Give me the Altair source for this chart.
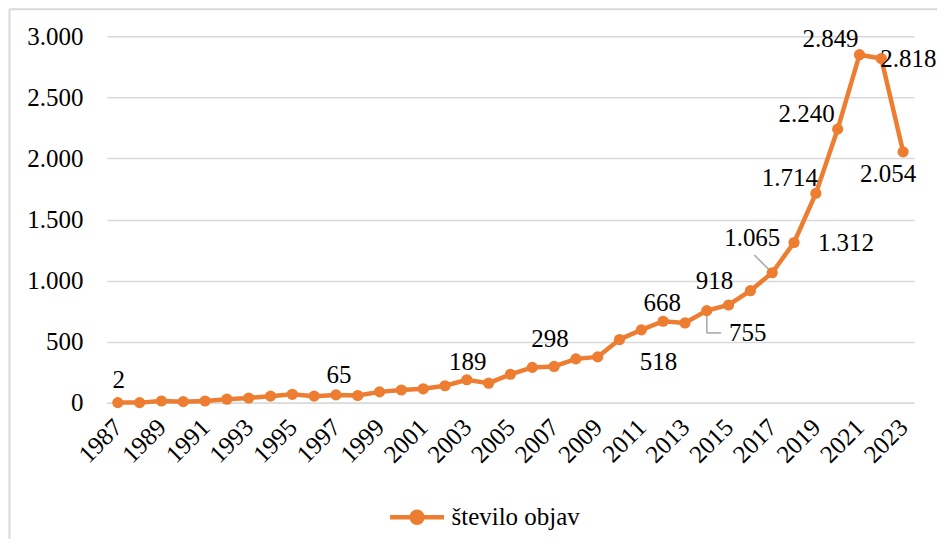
import altair as alt
import pandas as pd

# ---- data ----
years = list(range(1987, 2024))
values = [2, 2, 15, 10, 15, 30, 40, 55, 70, 55,
          65, 60, 90, 105, 115, 140, 189, 161, 234, 290,
          298, 360, 376, 518, 597, 668, 654, 755, 801, 918,
          1065, 1312, 1714, 2240, 2849, 2818, 2054]
series_name = "število objav"
y_ticks = [0, 500, 1000, 1500, 2000, 2500, 3000]
x_tick_years = years[::2]
labelled_years = [1987, 1997, 2003, 2007, 2010, 2012, 2014, 2016,
                  2017, 2018, 2019, 2020, 2021, 2022, 2023]

# ---- styles ----
ORANGE = "#ED7D31"
GRID = "#d9d9d9"
LEADER = "#a6a6a6"
FONT = "Liberation Serif"
FS = 25
# label placement (dx, dy) in pixels relative to the point
LABEL_OFFSETS = {
    1987: (1, -23), 1997: (3, -20), 2003: (1, -18), 2007: (-4, -27),
    2010: (39, 22), 2012: (-1, -18), 2014: (41, 22), 2016: (-36, -10),
    2017: (-20, -35), 2018: (52, 0), 2019: (-26, -15), 2020: (-31, -15),
    2021: (-29, -16), 2022: (27, 1), 2023: (-15, 22),
}

df = pd.DataFrame({"year": years, "value": values})
df["series"] = series_name
df["label"] = [f"{v:,}".replace(",", ".") for v in values]

W, H = 808, 367

x_enc = alt.X(
    "year:O",
    title=None,
    scale=alt.Scale(type="point", padding=0.5),
    axis=alt.Axis(
        values=x_tick_years,
        labelAngle=-45,
        labelAlign="right",
        labelBaseline="middle",
        labelPadding=20,
        ticks=False,
        tickSize=0,
        domainColor=GRID,
        domainWidth=1.5,
        grid=False,
        labelFont=FONT,
        labelFontSize=FS,
        labelColor="black",
    ),
)
y_enc = alt.Y(
    "value:Q",
    title=None,
    scale=alt.Scale(domain=[0, 3000], nice=False),
    axis=alt.Axis(
        values=y_ticks,
        labelExpr="replace(format(datum.value, ','), ',', '.')",
        ticks=False,
        tickSize=0,
        labelPadding=24,
        domain=False,
        grid=True,
        gridColor=GRID,
        gridWidth=1.5,
        labelFont=FONT,
        labelFontSize=FS,
        labelColor="black",
    ),
)

base = alt.Chart(df)

# legend symbol: a short line with a dot in the middle
SYMBOL = "M-1,0L1,0M0.2,0A0.2,0.2,0,1,1,-0.2,0A0.2,0.2,0,1,1,0.2,0Z"

line = base.mark_line(color=ORANGE, strokeWidth=4.5).encode(x=x_enc, y=y_enc)
points = base.mark_circle(size=125, opacity=1).encode(
    x=x_enc,
    y=y_enc,
    color=alt.Color(
        "series:N",
        scale=alt.Scale(range=[ORANGE]),
        legend=alt.Legend(
            title=None,
            orient="none",
            legendX=281,
            legendY=452,
            padding=0,
            symbolType=SYMBOL,
            symbolSize=2916,
            symbolStrokeWidth=4.5,
            symbolStrokeColor=ORANGE,
            symbolFillColor=ORANGE,
            labelFont=FONT,
            labelFontSize=FS,
            labelColor="black",
            labelOffset=5,
        ),
    ),
)

# leader lines for two displaced labels
lead_a = base.transform_filter(alt.datum.year == 2014).mark_rule(
    color=LEADER, strokeWidth=1.5
).encode(x=x_enc, y=y_enc, y2=alt.value(297))
lead_b = base.transform_filter(alt.datum.year == 2014).mark_rule(
    color=LEADER, strokeWidth=1.5
).encode(x=x_enc, x2=alt.value(615), y=alt.value(297))
lead_c = base.transform_filter(alt.datum.year == 2017).mark_rule(
    color=LEADER, strokeWidth=1.5
).encode(x=x_enc, y=y_enc, x2=alt.value(648), y2=alt.value(219))

texts = []
for yr in labelled_years:
    dx, dy = LABEL_OFFSETS[yr]
    texts.append(
        base.transform_filter(alt.datum.year == yr)
        .mark_text(font=FONT, fontSize=FS, color="black", dx=dx, dy=dy,
                   align="center", baseline="middle")
        .encode(x=x_enc, y=y_enc, text="label:N")
    )

# outer frame of the figure (left and top edges); these also fix the
# chart's outer bounds so the plot area lands where the reference has it
frame_left = base.transform_filter(alt.datum.year == 1987).mark_rule(
    color=GRID, strokeWidth=2
).encode(x=alt.value(-97.5), y=alt.value(-27), y2=alt.value(503))
frame_top = base.transform_filter(alt.datum.year == 1987).mark_rule(
    color=GRID, strokeWidth=2
).encode(x=alt.value(-98), x2=alt.value(831), y=alt.value(-27))

chart = alt.layer(
    frame_left, frame_top, lead_a, lead_b, lead_c, line, points, *texts
).properties(
    width=W,
    height=H,
    padding=0,
    view=alt.ViewBackground(stroke="transparent"),
)

chart.save("out.html", embed_options={"renderer": "svg", "actions": False})
